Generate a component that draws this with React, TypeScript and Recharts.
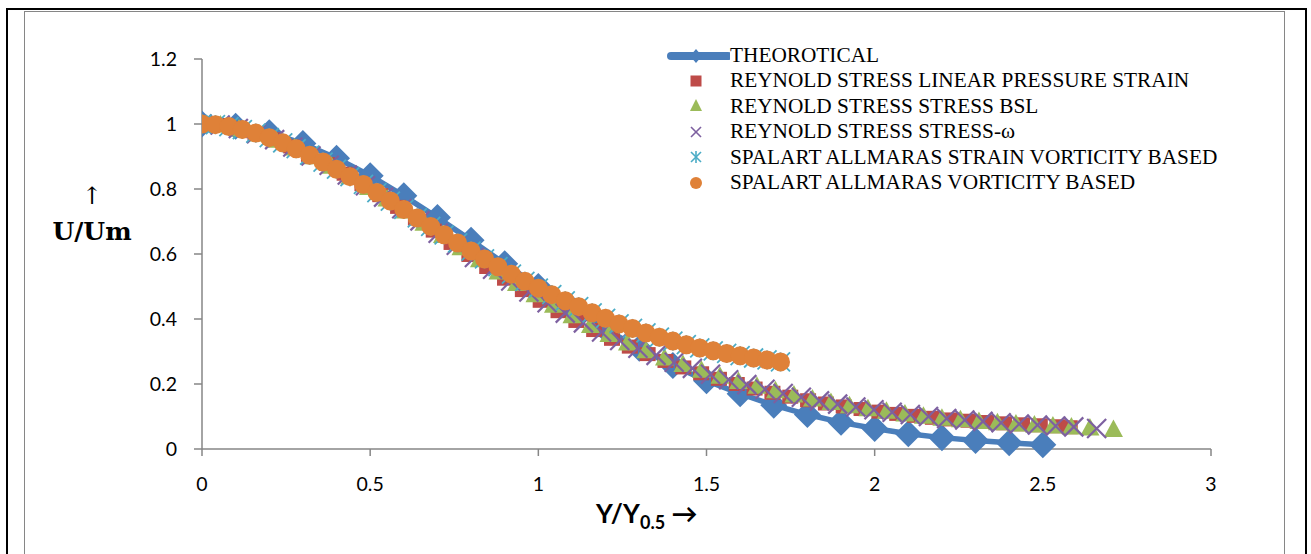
import { Scatter, ScatterChart, XAxis, YAxis } from 'recharts'

// theoretical profile, read at every 0.1
const THEORY_X = [0, 0.1, 0.2, 0.3, 0.4, 0.5, 0.6, 0.7, 0.8, 0.9, 1.0, 1.1, 1.2, 1.3, 1.4, 1.5, 1.6, 1.7, 1.8, 1.9, 2.0, 2.1, 2.2, 2.3, 2.4, 2.5]
const THEORY_Y = [1.0, 0.993, 0.973, 0.94, 0.895, 0.841, 0.779, 0.712, 0.642, 0.57, 0.5, 0.432, 0.368, 0.31, 0.257, 0.21, 0.17, 0.135, 0.106, 0.082, 0.063, 0.047, 0.035, 0.026, 0.019, 0.013]

// reynold stress, linear pressure strain
const RS_LPS_X = [0, 0.053, 0.106, 0.159, 0.212, 0.265, 0.318, 0.371, 0.424, 0.477, 0.53, 0.583, 0.636, 0.689, 0.742, 0.795, 0.848, 0.901, 0.954, 1.007, 1.06, 1.113, 1.166, 1.219, 1.272, 1.325, 1.378, 1.431, 1.484, 1.537, 1.59, 1.643, 1.696, 1.749, 1.802, 1.855, 1.908, 1.961, 2.014, 2.067, 2.12, 2.173, 2.226, 2.279, 2.332, 2.385, 2.438, 2.491, 2.544, 2.58]
const RS_LPS_Y = [1.0, 0.997, 0.986, 0.971, 0.953, 0.931, 0.905, 0.877, 0.847, 0.815, 0.781, 0.745, 0.709, 0.672, 0.634, 0.597, 0.56, 0.524, 0.489, 0.456, 0.424, 0.394, 0.366, 0.339, 0.315, 0.292, 0.271, 0.251, 0.233, 0.216, 0.2, 0.186, 0.173, 0.161, 0.15, 0.14, 0.131, 0.123, 0.115, 0.108, 0.102, 0.096, 0.091, 0.087, 0.083, 0.079, 0.076, 0.073, 0.07, 0.067]

// reynold stress, BSL
const RS_BSL_X = [0, 0.055, 0.11, 0.165, 0.22, 0.275, 0.33, 0.385, 0.44, 0.495, 0.55, 0.605, 0.66, 0.715, 0.77, 0.825, 0.88, 0.935, 0.99, 1.045, 1.1, 1.155, 1.21, 1.265, 1.32, 1.375, 1.43, 1.485, 1.54, 1.595, 1.65, 1.705, 1.76, 1.815, 1.87, 1.925, 1.98, 2.035, 2.09, 2.145, 2.2, 2.255, 2.31, 2.365, 2.42, 2.475, 2.53, 2.585, 2.64, 2.71]
const RS_BSL_Y = [1.0, 0.997, 0.985, 0.969, 0.95, 0.926, 0.899, 0.87, 0.838, 0.805, 0.769, 0.732, 0.695, 0.657, 0.619, 0.582, 0.545, 0.509, 0.475, 0.442, 0.41, 0.38, 0.352, 0.326, 0.302, 0.28, 0.26, 0.242, 0.224, 0.208, 0.193, 0.179, 0.166, 0.154, 0.143, 0.133, 0.124, 0.116, 0.108, 0.101, 0.095, 0.09, 0.085, 0.081, 0.077, 0.074, 0.071, 0.068, 0.065, 0.06]

// reynold stress, stress-omega
const RS_OMEGA_X = [0, 0.054, 0.108, 0.162, 0.216, 0.27, 0.324, 0.378, 0.432, 0.486, 0.54, 0.594, 0.648, 0.702, 0.756, 0.81, 0.864, 0.918, 0.972, 1.026, 1.08, 1.134, 1.188, 1.242, 1.296, 1.35, 1.404, 1.458, 1.512, 1.566, 1.62, 1.674, 1.728, 1.782, 1.836, 1.89, 1.944, 1.998, 2.052, 2.106, 2.16, 2.214, 2.268, 2.322, 2.376, 2.43, 2.484, 2.538, 2.592, 2.66]
const RS_OMEGA_Y = [1.0, 0.997, 0.986, 0.97, 0.952, 0.929, 0.902, 0.873, 0.843, 0.81, 0.775, 0.739, 0.702, 0.664, 0.627, 0.589, 0.553, 0.517, 0.483, 0.45, 0.418, 0.388, 0.36, 0.334, 0.31, 0.288, 0.267, 0.248, 0.23, 0.213, 0.198, 0.184, 0.171, 0.159, 0.148, 0.138, 0.129, 0.121, 0.113, 0.106, 0.1, 0.094, 0.089, 0.085, 0.081, 0.077, 0.074, 0.071, 0.068, 0.063]

// spalart allmaras (both variants sit on the same nodes)
const SA_X = [0, 0.04, 0.08, 0.12, 0.16, 0.2, 0.24, 0.28, 0.32, 0.36, 0.4, 0.44, 0.48, 0.52, 0.56, 0.6, 0.64, 0.68, 0.72, 0.76, 0.8, 0.84, 0.88, 0.92, 0.96, 1.0, 1.04, 1.08, 1.12, 1.16, 1.2, 1.24, 1.28, 1.32, 1.36, 1.4, 1.44, 1.48, 1.52, 1.56, 1.6, 1.64, 1.68, 1.72]
const SA_STRAIN_Y = [1.0, 0.998, 0.992, 0.983, 0.972, 0.958, 0.942, 0.924, 0.904, 0.883, 0.861, 0.838, 0.814, 0.789, 0.763, 0.737, 0.711, 0.685, 0.659, 0.634, 0.609, 0.585, 0.561, 0.538, 0.516, 0.495, 0.475, 0.456, 0.438, 0.419, 0.402, 0.385, 0.371, 0.357, 0.344, 0.332, 0.321, 0.311, 0.302, 0.294, 0.287, 0.28, 0.274, 0.268]
const SA_VORT_Y = [1.0, 0.998, 0.992, 0.983, 0.972, 0.958, 0.942, 0.924, 0.904, 0.883, 0.861, 0.838, 0.814, 0.789, 0.763, 0.737, 0.711, 0.685, 0.659, 0.634, 0.609, 0.585, 0.561, 0.538, 0.516, 0.495, 0.475, 0.456, 0.438, 0.419, 0.402, 0.385, 0.371, 0.357, 0.344, 0.332, 0.321, 0.311, 0.302, 0.294, 0.287, 0.28, 0.274, 0.268]

const X_TICKS = [0, 0.5, 1, 1.5, 2, 2.5, 3]
const Y_TICKS = [0, 0.2, 0.4, 0.6, 0.8, 1, 1.2]

const LEGEND = [
  'THEOROTICAL',
  'REYNOLD STRESS LINEAR PRESSURE STRAIN',
  'REYNOLD STRESS STRESS BSL',
  'REYNOLD STRESS STRESS-\u03c9',
  'SPALART ALLMARAS STRAIN VORTICITY BASED',
  'SPALART ALLMARAS VORTICITY BASED',
]

const BLUE = '#4A7EBB'
const RED = '#BE4B48'
const GREEN = '#9BBB59'
const PURPLE = '#7D60A0'
const CYAN = '#4BACC6'
const ORANGE = '#DF8138'
const AXIS = '#868686'

const zip = (xs: number[], ys: number[]) => xs.map((x, i) => ({ x, y: ys[i] }))

function Diamond({ cx, cy }: any) {
  const r = 13.5
  return <polygon points={`${cx},${cy - r} ${cx + r},${cy} ${cx},${cy + r} ${cx - r},${cy}`} fill={BLUE} />
}
function Square({ cx, cy }: any) {
  return <rect x={cx - 8} y={cy - 7} width={16} height={14} fill={RED} />
}
function Triangle({ cx, cy }: any) {
  return <polygon points={`${cx},${cy - 10} ${cx + 9.5},${cy + 7.5} ${cx - 9.5},${cy + 7.5}`} fill={GREEN} />
}
function Cross({ cx, cy }: any) {
  const r = 9.5
  return (
    <g stroke={PURPLE} strokeWidth={2.2}>
      <line x1={cx - r} y1={cy - r} x2={cx + r} y2={cy + r} />
      <line x1={cx - r} y1={cy + r} x2={cx + r} y2={cy - r} />
    </g>
  )
}
function Star({ cx, cy }: any) {
  const r = 9.5
  return (
    <g stroke={CYAN} strokeWidth={1.8}>
      <line x1={cx - r} y1={cy - r} x2={cx + r} y2={cy + r} />
      <line x1={cx - r} y1={cy + r} x2={cx + r} y2={cy - r} />
      <line x1={cx} y1={cy - r} x2={cx} y2={cy + r} />
    </g>
  )
}
function Dot({ cx, cy }: any) {
  return <circle cx={cx} cy={cy} r={9.5} fill={ORANGE} />
}

function LegendIcon({ index }: { index: number }) {
  const c = 30
  return (
    <svg width={64} height={24} style={{ display: 'block' }}>
      {index === 0 && (
        <>
          <line x1={5} y1={12} x2={62} y2={12} stroke={BLUE} strokeWidth={8} strokeLinecap="round" />
          <polygon points={`${c},5 ${c + 6},12 ${c},19 ${c - 6},12`} fill={BLUE} />
        </>
      )}
      {index === 1 && <rect x={c - 5.5} y={6.5} width={11} height={11} fill={RED} />}
      {index === 2 && <polygon points={`${c},5 ${c + 6},17 ${c - 6},17`} fill={GREEN} />}
      {index === 3 && (
        <g stroke={PURPLE} strokeWidth={1.6}>
          <line x1={c - 5} y1={7} x2={c + 5} y2={17} />
          <line x1={c - 5} y1={17} x2={c + 5} y2={7} />
        </g>
      )}
      {index === 4 && (
        <g stroke={CYAN} strokeWidth={1.6}>
          <line x1={c - 5} y1={7} x2={c + 5} y2={17} />
          <line x1={c - 5} y1={17} x2={c + 5} y2={7} />
          <line x1={c} y1={6} x2={c} y2={18} />
        </g>
      )}
      {index === 5 && <circle cx={c} cy={12} r={6} fill={ORANGE} />}
    </svg>
  )
}

export default function App() {
  const tick = { fill: '#000', fontSize: 19.5, fontFamily: 'Lato, sans-serif' }
  return (
    <div style={{ position: 'absolute', left: 0, top: 0, width: 1311, height: 554, overflow: 'hidden', background: '#fff' }}>
      <div style={{ position: 'absolute', left: 6, top: 8, width: 1301, height: 600, border: '2px solid #000', boxSizing: 'border-box' }} />
      <div style={{ position: 'absolute', left: 24, top: 11, width: 1261, height: 600, border: `1.5px solid ${AXIS}`, boxSizing: 'border-box' }} />

      <div style={{ position: 'absolute', left: 0, top: 0 }}>
        <ScatterChart width={1311} height={554} margin={{ top: 59, right: 100, bottom: 55, left: 142 }}>
          <XAxis
            type="number"
            dataKey="x"
            domain={[0, 3]}
            ticks={X_TICKS}
            tick={tick}
            tickSize={7}
            tickMargin={21}
            height={50}
            axisLine={{ stroke: AXIS, strokeWidth: 1.5 }}
            tickLine={{ stroke: AXIS, strokeWidth: 1.5 }}
            allowDataOverflow
          />
          <YAxis
            type="number"
            dataKey="y"
            domain={[0, 1.2]}
            ticks={Y_TICKS}
            tick={tick}
            tickSize={8}
            tickMargin={17}
            width={60}
            axisLine={{ stroke: AXIS, strokeWidth: 1.5 }}
            tickLine={{ stroke: AXIS, strokeWidth: 1.5 }}
          />
          <Scatter
            data={zip(THEORY_X, THEORY_Y)}
            fill={BLUE}
            line={{ stroke: BLUE, strokeWidth: 5.5 }}
            lineType="joint"
            shape={(p: any) => <Diamond {...p} />}
            isAnimationActive={false}
          />
          <Scatter data={zip(RS_LPS_X, RS_LPS_Y)} fill={RED} shape={(p: any) => <Square {...p} />} isAnimationActive={false} />
          <Scatter data={zip(RS_BSL_X, RS_BSL_Y)} fill={GREEN} shape={(p: any) => <Triangle {...p} />} isAnimationActive={false} />
          <Scatter data={zip(RS_OMEGA_X, RS_OMEGA_Y)} fill={PURPLE} shape={(p: any) => <Cross {...p} />} isAnimationActive={false} />
          <Scatter data={zip(SA_X, SA_STRAIN_Y)} fill={CYAN} shape={(p: any) => <Star {...p} />} isAnimationActive={false} />
          <Scatter data={zip(SA_X, SA_VORT_Y)} fill={ORANGE} shape={(p: any) => <Dot {...p} />} isAnimationActive={false} />
        </ScatterChart>
      </div>

      {/* legend */}
      <div style={{ position: 'absolute', left: 666, top: 43, fontFamily: '"Liberation Serif", "Times New Roman", serif', fontSize: 21.3, lineHeight: '25.4px', color: '#000' }}>
        {LEGEND.map((name, i) => (
          <div key={name} style={{ display: 'flex', alignItems: 'center', height: 25.4 }}>
            <LegendIcon index={i} />
            <span style={{ whiteSpace: 'nowrap' }}>{name}</span>
          </div>
        ))}
      </div>

      {/* y axis title */}
      <div style={{ position: 'absolute', left: 42, top: 178, width: 100, textAlign: 'center', fontFamily: '"DejaVu Serif", serif', fontWeight: 'bold', fontSize: 25, lineHeight: '36px', color: '#000' }}>
        <div style={{ fontWeight: 'normal', fontSize: 24 }}>{'\u2191'}</div>
        <div>U/Um</div>
      </div>

      {/* x axis title */}
      <div style={{ position: 'absolute', left: 596, top: 497, fontFamily: 'Lato, sans-serif', fontWeight: 'bold', fontSize: 26, color: '#000', whiteSpace: 'nowrap' }}>
        Y/Y<sub style={{ fontSize: 18 }}>0.5</sub> {'\u2192'}
      </div>
    </div>
  )
}
